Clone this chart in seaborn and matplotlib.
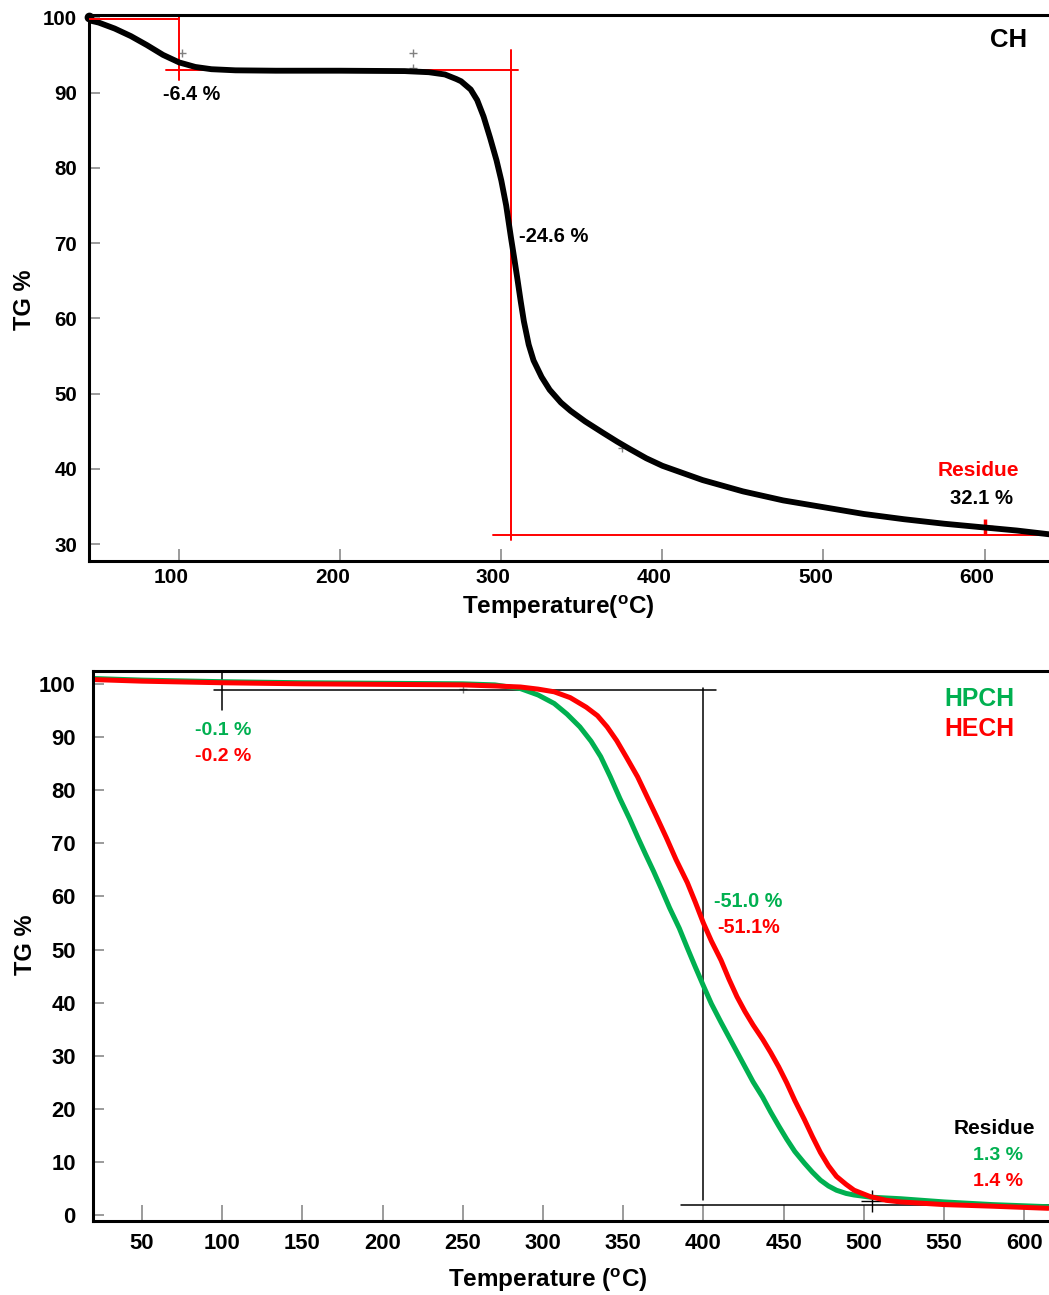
import matplotlib
matplotlib.use("Agg")
import matplotlib.pyplot as plt
import matplotlib.transforms as mtransforms
import seaborn as sns

# --- CH (top panel) ---
ch_temp = [44, 50, 60, 70, 80, 90, 100, 110, 120, 135, 160, 200, 240, 255, 265,
           272, 275, 281, 285, 289, 293, 297, 300, 303, 306, 308, 310, 312, 314,
           317, 320, 325, 330, 337, 343, 352, 363, 372, 380, 390, 400, 425, 450,
           475, 500, 525, 550, 575, 600, 620, 640]
ch_tg = [99.6, 99.3, 98.5, 97.5, 96.3, 95.0, 94.0, 93.4, 93.1, 92.95, 92.9, 92.9,
         92.85, 92.7, 92.4, 91.8, 91.5, 90.4, 89.0, 86.8, 84.0, 81.0, 78.3, 75.0,
         70.7, 68.0, 65.2, 62.3, 59.6, 56.5, 54.4, 52.2, 50.5, 48.8, 47.7, 46.3,
         44.8, 43.6, 42.6, 41.4, 40.4, 38.5, 37.0, 35.8, 34.9, 34.0, 33.3, 32.7,
         32.2, 31.8, 31.3]

# --- HPCH / HECH (bottom panel) ---
hpch_temp = [20, 50, 100, 150, 200, 250, 270, 286, 297, 307, 315, 323, 330, 336,
             342, 348, 354, 359, 364, 369, 374, 379, 385, 390, 395, 400, 405, 411,
             416, 421, 426, 431, 437, 442, 447, 452, 457, 463, 468, 473, 478, 483,
             489, 494, 504, 523, 550, 580, 615]
hpch_tg = [101.0, 100.7, 100.4, 100.2, 100.1, 100.0, 99.8, 99.1, 97.9, 96.3, 94.3,
           91.9, 89.2, 86.3, 82.5, 78.4, 74.6, 71.2, 67.9, 64.7, 61.3, 57.8, 54.0,
           50.3, 46.7, 43.2, 39.8, 36.3, 33.5, 30.7, 27.9, 25.1, 22.2, 19.4, 16.8,
           14.3, 12.0, 9.8, 8.1, 6.6, 5.5, 4.7, 4.1, 3.8, 3.4, 3.1, 2.5, 2.0, 1.6]
hech_temp = [20, 50, 100, 150, 200, 250, 270, 286, 297, 307, 317, 327, 334, 340,
             346, 352, 359, 365, 371, 377, 383, 390, 395, 400, 405, 411, 416, 421,
             426, 431, 437, 442, 447, 452, 457, 463, 468, 473, 478, 483, 489, 494,
             504, 514, 523, 550, 580, 615]
hech_tg = [100.8, 100.5, 100.2, 100.0, 99.9, 99.8, 99.6, 99.4, 99.0, 98.5, 97.4,
           95.6, 94.0, 91.9, 89.3, 86.2, 82.5, 78.7, 74.9, 71.0, 66.9, 62.6, 58.9,
           55.0, 51.6, 48.0, 44.4, 41.1, 38.3, 35.8, 33.1, 30.6, 27.9, 24.9, 21.6,
           18.0, 14.8, 11.8, 9.3, 7.3, 5.8, 4.7, 3.5, 2.8, 2.5, 2.0, 1.7, 1.3]

GREEN = "#00B050"
RED = "#FF0000"
GREY = "#808080"

sns.set_theme(style="white")
plt.rcParams["font.family"] = ["Liberation Sans", "DejaVu Sans"]
plt.rcParams["font.weight"] = "bold"
plt.rcParams["text.color"] = "black"
plt.rcParams["axes.labelcolor"] = "black"
plt.rcParams["xtick.labelcolor"] = "black"
plt.rcParams["ytick.labelcolor"] = "black"
plt.rcParams["mathtext.fontset"] = "custom"
plt.rcParams["mathtext.rm"] = "Liberation Sans"
plt.rcParams["mathtext.bf"] = "Liberation Sans:bold"

fig = plt.figure(figsize=(10.49, 12.95), dpi=100)
ax1 = fig.add_axes([0.0848, 0.5668, 0.9152, 0.4216])
ax2 = fig.add_axes([0.0887, 0.0571, 0.9113, 0.4247])

for ax in (ax1, ax2):
    ax.spines["right"].set_visible(False)
    for s in ("top", "left", "bottom"):
        ax.spines[s].set_linewidth(2.2)
        ax.spines[s].set_color("black")

# ---------------- top: CH ----------------
ax1.plot([44, 100], [99.75, 99.75], color=RED, lw=1.4, zorder=3)
ax1.plot([100, 100], [100.3, 91.6], color=RED, lw=1.4)
ax1.plot([92, 310.5], [92.95, 92.95], color=RED, lw=1.4)
ax1.plot([306, 306], [95.6, 30.6], color=RED, lw=1.4)
ax1.plot([295, 640], [31.2, 31.2], color=RED, lw=1.4)
sns.lineplot(x=ch_temp, y=ch_tg, ax=ax1, color="black", linewidth=4.2, sort=False)
ax1.plot([44], [100], marker="o", color="black", ms=6, clip_on=False)
sns.scatterplot(x=[102, 245, 245, 375], y=[95.2, 95.2, 93.2, 42.8], ax=ax1,
                marker="+", color=GREY, s=40, linewidth=1)
sns.scatterplot(x=[600], y=[32.3], ax=ax1, marker="+", color=RED, s=120, linewidth=2.5)

ax1.set_xlim(44, 640)
ax1.set_ylim(27.75, 100.3)
ax1.set_xticks([100, 200, 300, 400, 500, 600])
ax1.set_yticks([30, 40, 50, 60, 70, 80, 90, 100])
ax1.tick_params(axis="x", bottom=True, direction="in", length=8.5, width=1.1,
                color=GREY, pad=5, labelsize=15)
ax1.tick_params(axis="y", left=True, direction="in", length=8, width=1.1,
                color=GREY, pad=8.5, labelsize=14.8)
shift = mtransforms.ScaledTranslation(-8 / 100, 0, fig.dpi_scale_trans)
for lab in ax1.get_xticklabels():
    lab.set_transform(lab.get_transform() + shift)
    lab.set_fontweight("bold")
for lab in ax1.get_yticklabels():
    lab.set_fontweight("bold")

ax1.set_xlabel(r"Temperature($^{\mathbf{o}}$C)", fontsize=17.5, fontweight="bold")
ax1.set_ylabel("TG %", fontsize=17, fontweight="bold")
ax1.xaxis.set_label_coords(0.4885, -0.084)
ax1.xaxis.label.set_va("center")
ax1.yaxis.set_label_coords(-0.0667, 0.478)
ax1.yaxis.label.set_va("center")

ax1.text(108, 89.8, "-6.4 %", ha="center", va="center", fontsize=14.2, fontweight="bold")
ax1.text(311, 70.9, "-24.6 %", ha="left", va="center", fontsize=14.5, fontweight="bold")
ax1.text(626.5, 97, "CH", ha="right", va="center", fontsize=18.5, fontweight="bold")
ax1.text(596, 39.8, "Residue", ha="center", va="center", fontsize=15,
         fontweight="bold", color=RED)
ax1.text(598, 36.1, "32.1 %", ha="center", va="center", fontsize=14.6,
         fontweight="bold")

# ---------------- bottom: HPCH / HECH ----------------
ax2.plot([20, 104], [100.6, 100.6], color="black", lw=1.1)
ax2.plot([95, 408], [98.8, 98.8], color="black", lw=1.1)
ax2.plot([100, 100], [102.4, 95.1], color="black", lw=1.1)
ax2.plot([400, 400], [99.2, 2.8], color="black", lw=1.1)
ax2.plot([386, 615.5], [1.9, 1.9], color="black", lw=1.1)
sns.lineplot(x=hpch_temp, y=hpch_tg, ax=ax2, color=GREEN, linewidth=3.6, sort=False)
sns.lineplot(x=hech_temp, y=hech_tg, ax=ax2, color=RED, linewidth=3.6, sort=False)
sns.scatterplot(x=[505], y=[2.6], ax=ax2, marker="+", color="black", s=230, linewidth=1)
sns.scatterplot(x=[250], y=[99.0], ax=ax2, marker="+", color=GREY, s=30, linewidth=1)

ax2.set_xlim(19.5, 615.5)
ax2.set_ylim(-1.1, 102.4)
ax2.set_xticks(list(range(50, 601, 50)))
ax2.set_yticks(list(range(0, 101, 10)))
ax2.tick_params(axis="x", bottom=True, direction="in", length=11.5, width=1.1,
                color=GREY, pad=8.5, labelsize=15.8)
ax2.tick_params(axis="y", left=True, direction="in", length=8, width=1.1,
                color=GREY, pad=12.5, labelsize=15.8)
for lab in ax2.get_xticklabels() + ax2.get_yticklabels():
    lab.set_fontweight("bold")

ax2.set_xlabel(r"Temperature ($^{\mathbf{o}}$C)", fontsize=17.5, fontweight="bold")
ax2.set_ylabel("TG %", fontsize=17, fontweight="bold")
ax2.xaxis.set_label_coords(0.476, -0.107)
ax2.xaxis.label.set_va("center")
ax2.yaxis.set_label_coords(-0.0711, 0.502)
ax2.yaxis.label.set_va("center")

ax2.text(100.4, 91.2, "-0.1 %", ha="center", va="center", fontsize=14,
         fontweight="bold", color=GREEN)
ax2.text(100.4, 86.3, "-0.2 %", ha="center", va="center", fontsize=14,
         fontweight="bold", color=RED)
ax2.text(406.9, 59.0, "-51.0 %", ha="left", va="center", fontsize=14.3,
         fontweight="bold", color=GREEN)
ax2.text(408.9, 54.2, "-51.1%", ha="left", va="center", fontsize=14.3,
         fontweight="bold", color=RED)
ax2.text(572, 97.2, "HPCH", ha="center", va="center", fontsize=17.8,
         fontweight="bold", color=GREEN)
ax2.text(572, 91.5, "HECH", ha="center", va="center", fontsize=17.8,
         fontweight="bold", color=RED)
ax2.text(581.7, 16.3, "Residue", ha="center", va="center", fontsize=15,
         fontweight="bold", color="black")
ax2.text(599, 11.3, "1.3 %", ha="right", va="center", fontsize=14,
         fontweight="bold", color=GREEN)
ax2.text(599, 6.3, "1.4 %", ha="right", va="center", fontsize=14,
         fontweight="bold", color=RED)

fig.savefig("out.png", dpi=100)
